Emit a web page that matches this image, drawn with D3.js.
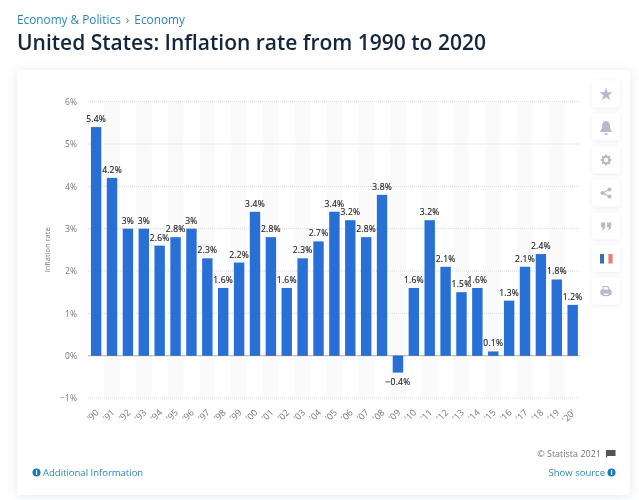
<!DOCTYPE html>
<html>
<head>
<meta charset="utf-8">
<script src="https://cdn.jsdelivr.net/npm/d3@7"></script>
<style>
  html, body { margin: 0; padding: 0; background: #fff; overflow: hidden; }
  svg { display: block; font-family: "Open Sans", sans-serif; }
</style>
</head>
<body>
<div id="chart"></div>
<script>
// chart data
const years = ["'90", "'91", "'92", "'93", "'94", "'95", "'96", "'97", "'98", "'99", "'00",
  "'01", "'02", "'03", "'04", "'05", "'06", "'07", "'08", "'09", "'10",
  "'11", "'12", "'13", "'14", "'15", "'16", "'17", "'18", "'19", "'20'"];
const rates = [5.4, 4.2, 3, 3, 2.6, 2.8, 3, 2.3, 1.6, 2.2, 3.4,
  2.8, 1.6, 2.3, 2.7, 3.4, 3.2, 2.8, 3.8, -0.4, 1.6,
  3.2, 2.1, 1.5, 1.6, 0.1, 1.3, 2.1, 2.4, 1.8, 1.2];
const yTicks = [-1, 0, 1, 2, 3, 4, 5, 6];

const w = 639, h = 500;
const svg = d3.select("#chart").append("svg").attr("width", w).attr("height", h);

const defs = svg.append("defs");
const shadow = defs.append("filter").attr("id", "shadow")
  .attr("x", "-10%").attr("y", "-10%").attr("width", "120%").attr("height", "120%");
shadow.append("feDropShadow").attr("dx", 0).attr("dy", 1).attr("stdDeviation", 6)
  .attr("flood-color", "#cfd6e2").attr("flood-opacity", 0.6);
const smallShadow = defs.append("filter").attr("id", "smallShadow")
  .attr("x", "-30%").attr("y", "-30%").attr("width", "160%").attr("height", "160%");
smallShadow.append("feDropShadow").attr("dx", 0).attr("dy", 1).attr("stdDeviation", 2.5)
  .attr("flood-color", "#d5dbe5").attr("flood-opacity", 0.55);

// page header
const header = svg.append("text").attr("x", 17).attr("y", 24)
  .attr("font-size", 11.8).attr("fill", "#2a85bd");
header.append("tspan").text("Economy & Politics");
header.append("tspan").attr("dx", 5).attr("fill", "#6d7d8c").text("›");
header.append("tspan").attr("dx", 5).text("Economy");

svg.append("text").attr("x", 17).attr("y", 50)
  .attr("font-size", 21).attr("font-weight", 600).attr("fill", "#14263e")
  .text("United States: Inflation rate from 1990 to 2020");

// card
svg.append("rect").attr("x", 17).attr("y", 70).attr("width", 613).attr("height", 425)
  .attr("rx", 4).attr("fill", "#fff").attr("filter", "url(#shadow)");

// scales
const x = d3.scaleBand().domain(years).range([88.2, 580.6]).paddingInner(0.345).paddingOuter(0.172);
const y = d3.scaleLinear().domain([-1, 6]).range([398, 101.7]);
const g = svg.append("g");

// background stripes on every other year
const step = x.step();
g.selectAll("rect.stripe")
  .data(years.filter((d, i) => i % 2 === 1))
  .enter().append("rect")
  .attr("class", "stripe")
  .attr("x", d => x(d) + x.bandwidth() / 2 - step / 2)
  .attr("y", y(6))
  .attr("width", step)
  .attr("height", y(-1) - y(6))
  .attr("fill", "#fafafa");

// y axis
const yAxis = d3.axisLeft(y).tickValues(yTicks).tickSize(0).tickPadding(0)
  .tickFormat(d => (d < 0 ? "\u2212" + Math.abs(d) : d) + "%");
const yG = g.append("g").attr("transform", "translate(77,0)").call(yAxis);
yG.select(".domain").remove();
yG.selectAll("text").attr("font-size", 8.5).attr("font-family", "Open Sans").attr("fill", "#777");

// grid lines
g.selectAll("line.grid")
  .data(yTicks.filter(d => d !== 0))
  .enter().append("line")
  .attr("class", "grid")
  .attr("x1", 88).attr("x2", 580)
  .attr("y1", d => y(d)).attr("y2", d => y(d))
  .attr("stroke", "#d9d9d9").attr("stroke-width", 1).attr("stroke-dasharray", "1,1");

// y axis title
svg.append("text")
  .attr("transform", "translate(50," + y(2.5) + ") rotate(-90)")
  .attr("text-anchor", "middle")
  .attr("font-size", 7.5).attr("fill", "#777")
  .text("Inflation rate");

// bars
g.selectAll("rect.bar")
  .data(rates)
  .enter().append("rect")
  .attr("class", "bar")
  .attr("x", (d, i) => x(years[i]))
  .attr("y", d => y(Math.max(d, 0)))
  .attr("width", x.bandwidth())
  .attr("height", d => Math.abs(y(d) - y(0)))
  .attr("fill", "#2970d6");

// zero line
g.append("line")
  .attr("x1", 88).attr("x2", 580).attr("y1", y(0)).attr("y2", y(0))
  .attr("stroke", "#b5b5b5").attr("stroke-width", 1)
  .style("mix-blend-mode", "multiply");

// value labels
g.selectAll("text.value")
  .data(rates)
  .enter().append("text")
  .attr("class", "value")
  .attr("x", (d, i) => x(years[i]) + x.bandwidth() / 2)
  .attr("y", d => d < 0 ? y(d) + 12 : y(d) - 5)
  .attr("text-anchor", "middle")
  .attr("font-size", 8.5)
  .attr("letter-spacing", 0.2)
  .attr("fill", "#222")
  .attr("stroke", "#222")
  .attr("stroke-width", 0.15)
  .text(d => (d < 0 ? "\u2212" + Math.abs(d) : d) + "%");

// x axis
const xAxis = d3.axisBottom(x).tickSize(0).tickPadding(0);
const xG = g.append("g").attr("transform", "translate(0,410)").call(xAxis);
xG.select(".domain").remove();
xG.selectAll("text")
  .attr("font-size", 9).attr("font-family", "Open Sans").attr("fill", "#777")
  .attr("text-anchor", "end").attr("dy", "0.5em")
  .attr("transform", "rotate(-45)");

// footer
svg.append("text").attr("x", 601).attr("y", 457).attr("text-anchor", "end")
  .attr("font-size", 9).attr("fill", "#777").text("© Statista 2021");
svg.append("path")
  .attr("d", "M606 450h9.5v6h-8.3v1.5h-1.2z")
  .attr("fill", "#555");

function infoIcon(cx, cy) {
  svg.append("circle").attr("cx", cx).attr("cy", cy).attr("r", 4).attr("fill", "#1f78b8");
  svg.append("text").attr("x", cx).attr("y", cy + 2.6).attr("text-anchor", "middle")
    .attr("font-size", 7).attr("font-weight", 700).attr("fill", "#fff").text("i");
}
infoIcon(36.5, 472.5);
svg.append("text").attr("x", 43).attr("y", 476)
  .attr("font-size", 9.5).attr("fill", "#2a85bd").text("Additional Information");
svg.append("text").attr("x", 605).attr("y", 476).attr("text-anchor", "end")
  .attr("font-size", 9.5).attr("fill", "#2a85bd").text("Show source");
infoIcon(611.5, 472.5);

// side buttons
const btnY = [94, 127, 160, 193, 226, 258.5, 291];
const iconCol = "#b4bbc9";
svg.selectAll("rect.btn")
  .data(btnY)
  .enter().append("rect")
  .attr("class", "btn")
  .attr("x", 592).attr("y", d => d - 13.5)
  .attr("width", 28).attr("height", 27).attr("rx", 3)
  .attr("fill", "#fff").attr("filter", "url(#smallShadow)");

const cxI = 606;
// star
svg.append("path").attr("transform", `translate(${cxI},${btnY[0] + 0.5})`)
  .attr("d", d3.symbol(d3.symbolStar, 55)()).attr("fill", iconCol);
// bell
svg.append("path").attr("transform", `translate(${cxI},${btnY[1]}) scale(1.25)`)
  .attr("d", "M-5 4c1.5-1.5 1.8-3 1.8-5 0-2 1.2-3.6 3.2-3.8 2 .2 3.2 1.8 3.2 3.8 0 2 .3 3.5 1.8 5z M-1.5 5h3a1.5 1.5 0 0 1-3 0z")
  .attr("fill", iconCol);
// gear
const gear = svg.append("g").attr("transform", `translate(${cxI},${btnY[2]})`);
gear.append("circle").attr("r", 3.4).attr("fill", "none").attr("stroke", iconCol).attr("stroke-width", 2.2);
gear.selectAll("line").data(d3.range(8)).enter().append("line")
  .attr("x1", 0).attr("y1", -3.8).attr("x2", 0).attr("y2", -5.4)
  .attr("transform", d => `rotate(${d * 45})`)
  .attr("stroke", iconCol).attr("stroke-width", 1.8);
// share
const share = svg.append("g").attr("transform", `translate(${cxI},${btnY[3]})`);
share.append("path").attr("d", "M3.5-3.5L-3.5 0L3.5 3.5").attr("fill", "none").attr("stroke", iconCol).attr("stroke-width", 1.2);
share.selectAll("circle").data([[3.5, -3.5, 2], [-3.5, 0, 2.1], [3.5, 3.5, 2]]).enter().append("circle")
  .attr("cx", d => d[0]).attr("cy", d => d[1]).attr("r", d => d[2]).attr("fill", iconCol);
// quote
const quote = svg.append("g").attr("transform", `translate(${cxI},${btnY[4]})`);
quote.selectAll("path").data([-5, 1]).enter().append("path")
  .attr("transform", d => `translate(${d},-3.5)`)
  .attr("d", "M0 0h4.2v4c0 2-1 3-2.8 3.6l-.5-1c.8-.4 1.2-1 1.2-1.8h-2.1z")
  .attr("fill", iconCol);
// french flag
const flag = ["#3b6cb0", "#ffffff", "#ee7a74"];
svg.selectAll("rect.flag").data(flag).enter().append("rect")
  .attr("class", "flag")
  .attr("x", (d, i) => 600 + i * 4.2).attr("y", btnY[5] - 4.5)
  .attr("width", 4.2).attr("height", 9.5).attr("fill", d => d);
// printer
const printer = svg.append("g").attr("transform", `translate(${cxI},${btnY[6]})`)
  .attr("fill", "none").attr("stroke", iconCol).attr("stroke-width", 1.2);
printer.append("path").attr("d", "M-3-1V-4.5h4.5L3-3V-1");
printer.append("rect").attr("x", -5).attr("y", -1).attr("width", 10).attr("height", 4.5).attr("rx", 1).attr("fill", iconCol);
printer.append("rect").attr("x", -3).attr("y", 2).attr("width", 6).attr("height", 2.5).attr("fill", "#fff");
</script>
</body>
</html>
